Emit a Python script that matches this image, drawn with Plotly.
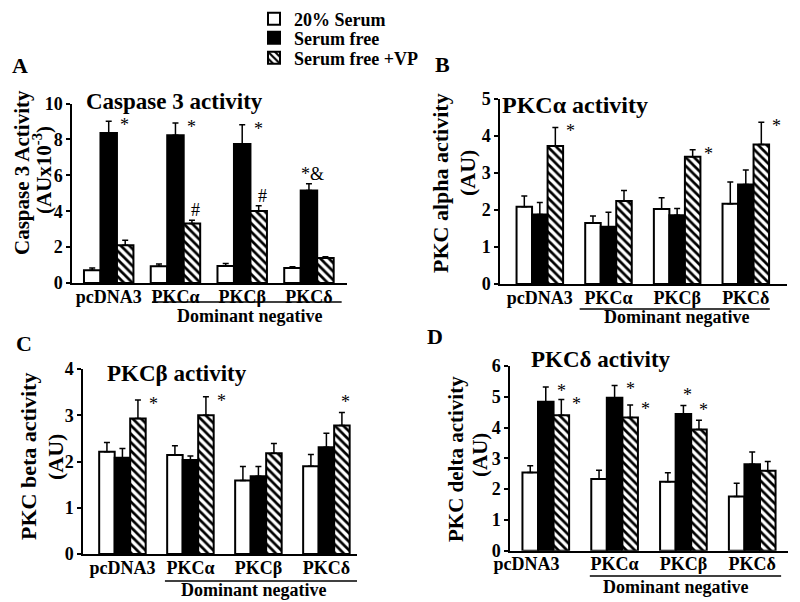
import plotly.graph_objects as go

# ---------------- data ----------------
categories = ["pcDNA3", "PKCα", "PKCβ", "PKCδ"]
series_names = ["20% Serum", "Serum free", "Serum free +VP"]

# Panel A: Caspase 3 activity (AUx10^-3)
casp_serum = [0.71, 0.93, 0.95, 0.84]
casp_serum_err = [0.13, 0.13, 0.13, 0.07]
casp_free = [8.36, 8.23, 7.74, 5.16]
casp_free_err = [0.65, 0.68, 1.08, 0.37]
casp_vp = [2.10, 3.32, 4.01, 1.39]
casp_vp_err = [0.28, 0.18, 0.30, 0.07]

# Panel B: PKC alpha activity (AU)
pkca_serum = [2.09, 1.65, 2.03, 2.17]
pkca_serum_err = [0.29, 0.19, 0.30, 0.59]
pkca_free = [1.88, 1.55, 1.86, 2.69]
pkca_free_err = [0.32, 0.39, 0.18, 0.39]
pkca_vp = [3.73, 2.24, 3.44, 3.77]
pkca_vp_err = [0.50, 0.29, 0.19, 0.60]

# Panel C: PKC beta activity (AU)
pkcb_serum = [2.21, 2.14, 1.59, 1.90]
pkcb_serum_err = [0.20, 0.20, 0.30, 0.25]
pkcb_free = [2.08, 2.03, 1.68, 2.31]
pkcb_free_err = [0.20, 0.09, 0.21, 0.30]
pkcb_vp = [2.93, 3.00, 2.18, 2.78]
pkcb_vp_err = [0.40, 0.40, 0.21, 0.28]

# Panel D: PKC delta activity (AU)
pkcd_serum = [2.54, 2.33, 2.24, 1.76]
pkcd_serum_err = [0.22, 0.28, 0.29, 0.43]
pkcd_free = [4.84, 4.97, 4.44, 2.81]
pkcd_free_err = [0.48, 0.40, 0.28, 0.40]
pkcd_vp = [4.40, 4.33, 3.94, 2.60]
pkcd_vp_err = [0.51, 0.40, 0.30, 0.30]

# significance marks: (group index, series index, text, placement)
marks_a = [(0, 1, "*", "right"), (1, 1, "*", "right"), (2, 1, "*", "right"),
           (1, 2, "#", "above"), (2, 2, "#", "above"), (3, 1, "*&", "above")]
marks_b = [(0, 2, "*", "right"), (2, 2, "*", "right"), (3, 2, "*", "right")]
marks_c = [(0, 2, "*", "right"), (1, 2, "*", "right"), (3, 2, "*", "above")]
marks_d = [(0, 1, "*", "right"), (0, 2, "*", "right"), (1, 1, "*", "right"),
           (1, 2, "*", "right"), (2, 1, "*", "above"), (2, 2, "*", "above")]

# ---------------- layout helpers ----------------
W, H = 800, 602
FONT = "Liberation Serif, Times New Roman, serif"


def px(x):
    return x / W


def py(y):
    return 1 - y / H


panels = [
    dict(key="", vals=[casp_serum, casp_free, casp_vp],
         errs=[casp_serum_err, casp_free_err, casp_vp_err], marks=marks_a,
         dom_x=(72, 347), dom_y=(283, 103.5), yr=10, dt=2, xr=(-0.55, 3.57), bw=0.247,
         tickpos=[0, 1, 2, 3],
         title="Caspase 3 activity", title_pos=(174, 101), t_size=23,
         ytitle=["Caspase 3 Activity", "(AUx10<sup>-3</sup>)"], ytitle_x=(22, 43), ytitle_y=(173, 170),
         yt_size=21,
         letter="A", letter_pos=(20, 66),
         uline=(0.65, 3.49, 302), dn_pos=(250, 316)),
    dict(key="2", vals=[pkca_serum, pkca_free, pkca_vp],
         errs=[pkca_serum_err, pkca_free_err, pkca_vp_err], marks=marks_b,
         dom_x=(500, 787), dom_y=(284, 99), yr=5, dt=1, xr=(-0.58, 3.6), bw=0.226,
         tickpos=[0, 1, 2, 3],
         title="PKCα activity", title_pos=(575, 105), t_size=24,
         ytitle=["PKC alpha activity", "(AU)"], ytitle_x=(441, 468), ytitle_y=(183, 173),
         yt_size=22,
         letter="B", letter_pos=(442, 65),
         uline=(0.58, 3.35, 309), dn_pos=(677, 317)),
    dict(key="3", vals=[pkcb_serum, pkcb_free, pkcb_vp],
         errs=[pkcb_serum_err, pkcb_free_err, pkcb_vp_err], marks=marks_c,
         dom_x=(83, 357), dom_y=(554, 369), yr=4, dt=1, xr=(-0.58, 3.45), bw=0.228,
         tickpos=[0, 1, 2, 3],
         title="PKCβ activity", title_pos=(177, 373), t_size=23,
         ytitle=["PKC beta activity", "(AU)"], ytitle_x=(28, 55), ytitle_y=(457, 457),
         yt_size=22,
         letter="C", letter_pos=(24, 343),
         uline=(0.625, 3.46, 581), dn_pos=(254, 590)),
    dict(key="4", vals=[pkcd_serum, pkcd_free, pkcd_vp],
         errs=[pkcd_serum_err, pkcd_free_err, pkcd_vp_err], marks=marks_d,
         dom_x=(510, 788), dom_y=(550.7, 366), yr=6, dt=1, xr=(-0.52, 3.52), bw=0.226,
         tickpos=[-0.28, 1, 2, 3],
         title="PKCδ activity", title_pos=(601, 359), t_size=23,
         ytitle=["PKC delta activity", "(AU)"], ytitle_x=(456, 480), ytitle_y=(459, 455),
         yt_size=21,
         letter="D", letter_pos=(435, 336),
         uline=(0.64, 3.42, 576), dn_pos=(676, 587)),
]

# legend rows (centre y in pixels) for the three series
legend_rows = [19, 38, 58]

fig = go.Figure()
annotations = []
shapes = []
layout_axes = {}
legend_names = ["legend", "legend2", "legend3"]

for pi, p in enumerate(panels):
    xa = "x" + p["key"]
    ya = "y" + p["key"]
    bw = p["bw"]
    for k in range(3):
        xs = [g + (k - 1) * bw for g in range(len(categories))]
        if k == 0:
            marker = dict(color="white", line=dict(color="black", width=2))
        elif k == 1:
            marker = dict(color="black", line=dict(color="black", width=2))
        else:
            marker = dict(color="white", line=dict(color="black", width=2),
                          pattern=dict(shape="\\", fgcolor="black", bgcolor="white",
                                       size=6, solidity=0.45))
        fig.add_trace(go.Bar(
            x=xs, y=p["vals"][k], width=bw, name=series_names[k],
            marker=marker, xaxis=xa, yaxis=ya,
            showlegend=(pi == 0), legend=legend_names[k],
            error_y=dict(type="data", symmetric=False, array=p["errs"][k],
                         arrayminus=[0] * len(categories), color="black",
                         thickness=1.5, width=3),
        ))
    # significance marks
    for (g, k, txt, place) in p["marks"]:
        xc = g + (k - 1) * bw
        top = p["vals"][k][g] + p["errs"][k][g]
        if place == "right":
            annotations.append(dict(x=xc + bw / 2 + 0.02, y=top, xref=xa, yref=ya,
                                    text=txt, showarrow=False, xanchor="left",
                                    yanchor="middle", yshift=-4,
                                    font=dict(size=18, family=FONT, color="#000000")))
        else:
            annotations.append(dict(x=xc + 0.06, y=top, xref=xa, yref=ya,
                                    text=txt, showarrow=False, xanchor="center",
                                    yanchor="bottom", yshift=-2,
                                    font=dict(size=18, family=FONT, color="#000000")))
    # axes
    xname = "xaxis" + p["key"]
    yname = "yaxis" + p["key"]
    layout_axes[xname] = dict(
        domain=[px(p["dom_x"][0]), px(p["dom_x"][1])], anchor=ya, range=list(p["xr"]),
        tickvals=p["tickpos"], ticktext=categories, ticks="", showline=True,
        linecolor="black", linewidth=2, showgrid=False, zeroline=False, automargin=False,
        ticklabelstandoff=-4,
        tickfont=dict(size=18, family=FONT, color="black", weight="bold"),
    )
    layout_axes[yname] = dict(
        domain=[py(p["dom_y"][0]), py(p["dom_y"][1])], anchor=xa, range=[0, p["yr"]],
        dtick=p["dt"], tick0=0, ticks="outside", ticklen=4, tickwidth=1.5,
        tickcolor="black", showline=True, linecolor="black", linewidth=1.5,
        showgrid=False, zeroline=False, automargin=False,
        tickfont=dict(size=18, family=FONT, color="black", weight="bold"),
    )
    # panel title
    annotations.append(dict(x=px(p["title_pos"][0]), y=py(p["title_pos"][1]), xref="paper",
                            yref="paper", text=p["title"], showarrow=False,
                            xanchor="center", yanchor="middle",
                            font=dict(size=p["t_size"], family=FONT, color="black", weight="bold")))
    # y-axis titles (two lines)
    for li in range(2):
        annotations.append(dict(x=px(p["ytitle_x"][li]), y=py(p["ytitle_y"][li]), xref="paper",
                                yref="paper", text=p["ytitle"][li], showarrow=False,
                                textangle=-90, xanchor="center", yanchor="middle",
                                font=dict(size=p["yt_size"], family=FONT, color="black",
                                          weight="bold")))
    # panel letter
    annotations.append(dict(x=px(p["letter_pos"][0]), y=py(p["letter_pos"][1]), xref="paper",
                            yref="paper", text=p["letter"], showarrow=False,
                            xanchor="center", yanchor="middle",
                            font=dict(size=22, family=FONT, color="black", weight="bold")))
    # "Dominant negative" bracket
    shapes.append(dict(type="line", xref=xa, yref="paper", x0=p["uline"][0], x1=p["uline"][1],
                       y0=py(p["uline"][2]), y1=py(p["uline"][2]),
                       line=dict(color="black", width=1.5)))
    annotations.append(dict(x=px(p["dn_pos"][0]), y=py(p["dn_pos"][1]), xref="paper",
                            yref="paper", text="Dominant negative", showarrow=False,
                            xanchor="center", yanchor="middle",
                            font=dict(size=18, family=FONT, color="black", weight="bold")))

legend_layout = {}
for k, ln in enumerate(legend_names):
    legend_layout[ln] = dict(
        x=px(254), y=py(legend_rows[k]), xanchor="left", yanchor="middle",
        font=dict(size=18, family=FONT, color="black", weight="bold"),
        bgcolor="rgba(0,0,0,0)", itemwidth=30, borderwidth=0,
    )

fig.update_layout(
    template="none",
    width=W, height=H, margin=dict(l=0, r=0, t=0, b=0, pad=0),
    paper_bgcolor="white", plot_bgcolor="white",
    barmode="overlay",
    font=dict(family=FONT, color="black"),
    annotations=annotations, shapes=shapes,
    **legend_layout,
    **layout_axes,
)

fig.write_html("out.html", config={"displayModeBar": False},
               post_script="document.body.style.margin='0';document.body.style.overflow='hidden';")
